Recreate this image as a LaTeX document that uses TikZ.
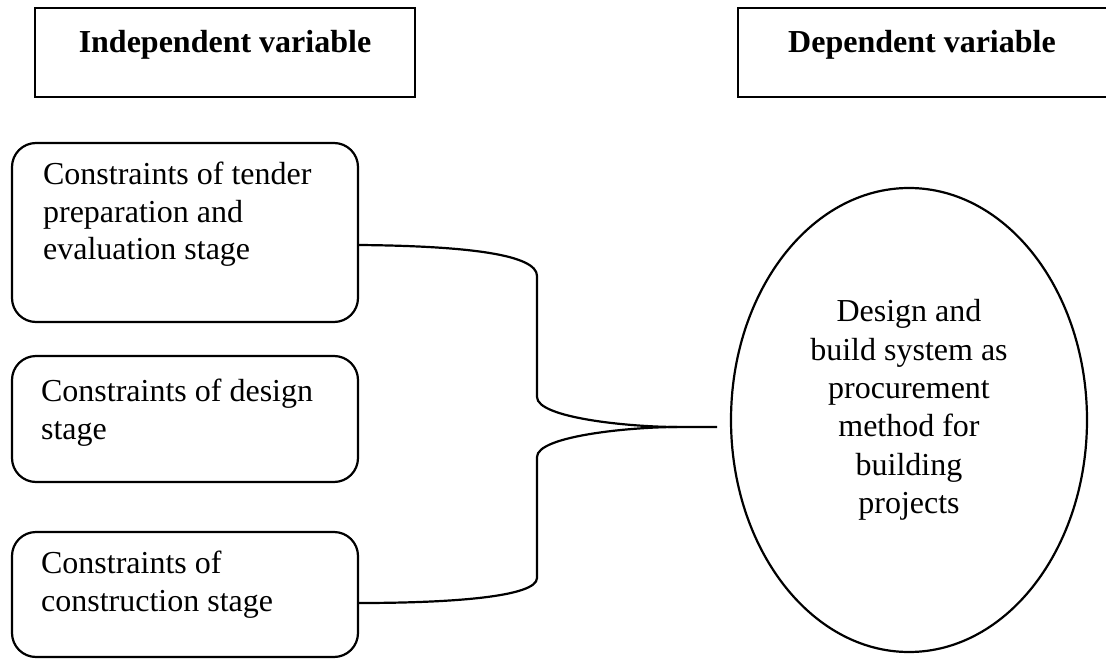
\documentclass[tikz,border=0pt]{standalone}
\usepackage{fontspec}
\setmainfont{Liberation Serif}
\usetikzlibrary{shapes.geometric}
\begin{document}
\begin{tikzpicture}[x=1pt,y=-1pt,
  line width=2.2pt,
  headbox/.style={draw, rectangle, inner sep=0pt},
  stagebox/.style={draw, rectangle, rounded corners=24pt, inner sep=0pt},
  txt/.style={inner sep=0pt, font=\fontsize{32}{37.5}\selectfont, align=left, anchor=north west},
  headtxt/.style={inner sep=0pt, font=\fontsize{32}{37.5}\selectfont\bfseries, anchor=base},
  conn/.style={draw, line width=2.2pt}
]
\useasboundingbox (0,0) rectangle (1106,661);
% header boxes
\node[headbox, minimum width=380pt, minimum height=89pt] (indep) at (225,52.5) {};
\node[headtxt] (indept) at (225,53) {Independent variable};
\node[headbox, minimum width=382pt, minimum height=89pt] (dep) at (929,52.5) {};
\node[headtxt] (dept) at (922,53) {Dependent variable};
% stage boxes
\node[stagebox, minimum width=346pt, minimum height=179pt] (b1) at (185,232.5) {};
\node[txt] (b1t) at (42,161) {Constraints of tender\\preparation and\\evaluation stage};
\node[stagebox, minimum width=346pt, minimum height=126pt] (b2) at (185,419) {};
\node[txt] (b2t) at (40,378) {Constraints of design\\stage};
\node[stagebox, minimum width=346pt, minimum height=125pt] (b3) at (185,594.5) {};
\node[txt] (b3t) at (40,550) {Constraints of\\construction stage};
% ellipse
\node[draw, ellipse, minimum width=356pt, minimum height=464pt, inner sep=0pt] (ell) at (909,420) {};
\node[inner sep=0pt, font=\fontsize{32}{38.3}\selectfont, align=center] (ellt) at (909,410) {Design and\\build system as\\procurement\\method for\\building\\projects};
% connector (brace)
\coordinate (tip) at (677,427);
\coordinate (tipend) at (717,427);
\draw[conn] (b1.east |- 0,245) .. controls (470,246) and (537,255) .. (537,276)
  -- (537,397) .. controls (537,418) and (630,427) .. (tip) -- (tipend);
\draw[conn] (tip) .. controls (630,427) and (537,436) .. (537,457)
  -- (537,578) .. controls (537,597) and (450,603) .. (b3.east |- 0,603);
\end{tikzpicture}
\end{document}
